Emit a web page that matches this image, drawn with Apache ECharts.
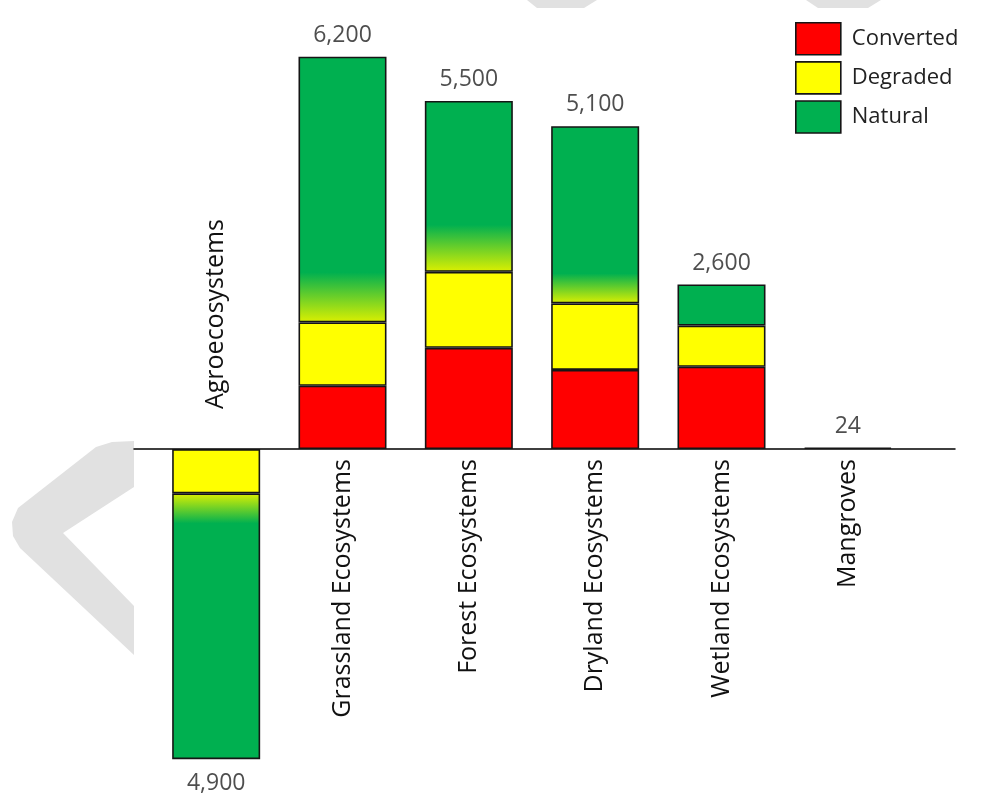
<!DOCTYPE html>
<html><head><meta charset="utf-8">
<script src="https://cdn.jsdelivr.net/npm/echarts@6/dist/echarts.min.js"></script>
<style>html,body{margin:0;padding:0;background:#fff}#c{width:981px;height:796px}</style>
</head><body><div id="c"></div>
<script>
// ---- data ----
const categories = ['Agroecosystems', 'Grassland Ecosystems', 'Forest Ecosystems', 'Dryland Ecosystems', 'Wetland Ecosystems', 'Mangroves'];
const seriesNames = ['Converted', 'Degraded', 'Natural'];
const converted = [null, 1000, 1600, 1250, 1300, null];
const degraded  = [-700, 1000, 1200, 1050, 650, null];
const natural   = [-4200, 4200, 2700, 2800, 650, 24];
const totals    = [-4900, 6200, 5500, 5100, 2600, 24];

// ---- styling ----
const FONT = 'Open Sans';
const RED = '#ff0000', YELLOW = '#ffff00', GREEN = '#00b050', FADE = '#dcf000';
const BORDER = '#151515';
const fadePx = [30, 50, 47, 30, 0, 0];
const Y_MIN = -5000, Y_MAX = 7000;
const GRID_TOP = 6, GRID_H = 759.5;
const pxPerUnit = GRID_H / (Y_MAX - Y_MIN);
// distance from the grid's bottom edge up to the value-0 line
const zeroLift = -Y_MIN * pxPerUnit;

const natData = natural.map((v, i) => {
  if (v == null || !fadePx[i]) return v;
  const h = Math.abs(v) * pxPerUnit;
  const f = Math.min(1, fadePx[i] / h);
  const stops = v > 0
    ? [{offset: 0, color: GREEN}, {offset: 1 - f, color: GREEN}, {offset: 1, color: FADE}]
    : [{offset: 0, color: FADE}, {offset: f, color: GREEN}, {offset: 1, color: GREEN}];
  return {value: v, itemStyle: {color: new echarts.graphic.LinearGradient(0, 0, 0, 1, stops)}};
});

const totalData = totals.map(v => ({
  value: v,
  label: {position: v < 0 ? 'bottom' : 'top', distance: v < 0 ? 13 : 10}
}));

const axisCats = categories.map((c, i) => i === 0
  ? {value: c, textStyle: {align: 'left', padding: [0, 0, 0, 50]}}
  : c);

function fmt(v) { return Math.abs(v).toLocaleString('en-US'); }

const barBase = {
  type: 'bar', stack: 'total', barWidth: 88, xAxisIndex: 0, yAxisIndex: 0,
  emphasis: {disabled: true}
};

const chart = echarts.init(document.getElementById('c'));
chart.setOption({
  animation: false,
  backgroundColor: '#ffffff',
  graphic: [
    {type: 'polygon', silent: true, z: -10,
     shape: {points: [[134, 441], [112, 442], [96, 447], [18, 508], [12, 522], [13, 536], [20, 548], [134, 655], [134, 606], [63, 533], [134, 487]]},
     style: {fill: '#e1e1e1'}},
    {type: 'polygon', silent: true, z: -10,
     shape: {points: [[527, 0], [597, 0], [584, 8], [537, 8]]}, style: {fill: '#e1e1e1'}},
    {type: 'polygon', silent: true, z: -10,
     shape: {points: [[806, 0], [881, 0], [868, 8], [818, 8]]}, style: {fill: '#e1e1e1'}}
  ],
  legend: {
    data: seriesNames,
    orient: 'vertical', left: 790, top: 17,
    itemWidth: 45, itemHeight: 32, itemGap: 5.5,
    icon: 'rect',
    itemStyle: {borderColor: BORDER, borderWidth: 1.6},
    textStyle: {fontFamily: FONT, fontSize: 22, color: '#222', padding: [0, 0, 0, 6]}
  },
  grid: [
    {left: 153, width: 758, top: GRID_TOP, height: GRID_H, outerBoundsMode: 'none'},
    {left: 134, width: 821, top: GRID_TOP, height: GRID_H, outerBoundsMode: 'none'}
  ],
  xAxis: [
    {type: 'category', gridIndex: 0, data: axisCats, position: 'bottom', offset: -zeroLift,
     axisLine: {show: false, onZero: false},
     axisTick: {show: false}, splitLine: {show: false},
     axisLabel: {rotate: 90, interval: 0, margin: 10, fontFamily: FONT, fontSize: 25, color: '#111'}},
    {type: 'value', gridIndex: 1, min: 0, max: 1,
     axisLine: {show: true, onZero: true, lineStyle: {color: '#000', width: 1.5}},
     axisTick: {show: false}, axisLabel: {show: false}, splitLine: {show: false}}
  ],
  yAxis: [
    {type: 'value', gridIndex: 0, min: Y_MIN, max: Y_MAX,
     axisLine: {show: false}, axisTick: {show: false}, axisLabel: {show: false}, splitLine: {show: false}},
    {type: 'value', gridIndex: 1, min: Y_MIN, max: Y_MAX,
     axisLine: {show: false}, axisTick: {show: false}, axisLabel: {show: false}, splitLine: {show: false}}
  ],
  series: [
    Object.assign({}, barBase, {name: seriesNames[0], data: converted,
      itemStyle: {color: RED, borderColor: BORDER, borderWidth: 1.6}}),
    Object.assign({}, barBase, {name: seriesNames[1], data: degraded,
      itemStyle: {color: YELLOW, borderColor: BORDER, borderWidth: 1.6}}),
    Object.assign({}, barBase, {name: seriesNames[2], data: natData,
      itemStyle: {color: GREEN, borderColor: BORDER, borderWidth: 1.6}}),
    {type: 'scatter', name: 'Total', xAxisIndex: 0, yAxisIndex: 0, data: totalData,
     symbolSize: 0, itemStyle: {color: 'rgba(0,0,0,0)'}, silent: true,
     label: {show: true, fontFamily: FONT, fontSize: 23, color: '#222',
             formatter: p => fmt(p.value)}}
  ]
});
</script></body></html>
